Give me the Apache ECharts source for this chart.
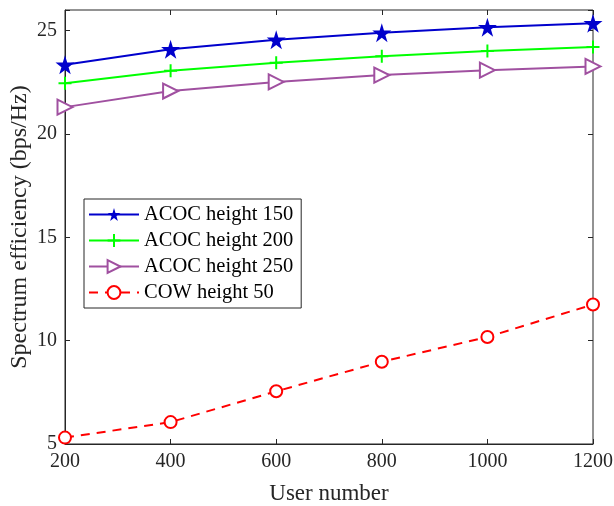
<!DOCTYPE html>
<html>
<head>
<meta charset="utf-8">
<script src="https://cdn.jsdelivr.net/npm/echarts@6/dist/echarts.min.js"></script>
<style>
  html, body { margin: 0; padding: 0; background: #fff; }
  #chart { width: 614px; height: 506px; }
</style>
</head>
<body>
<div id="chart"></div>
<script>
// ユーザー数ごとのスペクトル効率
const userNumbers = [200, 400, 600, 800, 1000, 1200];
const acoc150 = [23.35, 24.1, 24.56, 24.9, 25.17, 25.36];
const acoc200 = [22.45, 23.06, 23.45, 23.76, 24.02, 24.21];
const acoc250 = [21.3, 22.08, 22.52, 22.85, 23.09, 23.27];
const cow50 = [5.31, 6.06, 7.55, 8.98, 10.18, 11.75];
const yTicks = [5, 10, 15, 20, 25];

const font = 'Liberation Serif, Times New Roman, serif';
const starPath = 'path://M50,0 L61,35 L98,35 L68,57 L79,91 L50,70 L21,91 L32,57 L2,35 L39,35 Z';
const plusPath = 'path://M0,50 L100,50 M50,0 L50,100';

const pairs = arr => arr.map((v, i) => [userNumbers[i], v]);

const chart = echarts.init(document.getElementById('chart'));

const hiddenAxis = {
  axisLine: { show: false },
  axisLabel: { show: false },
  splitLine: { show: false },
  axisTick: { show: true, inside: true, length: 5, lineStyle: { color: '#262626' } }
};

const option = {
  backgroundColor: '#fff',
  animation: false,
  grid: {
    left: 65, right: 21, top: 10, bottom: 62,
    outerBoundsMode: 'none',
    containLabel: false,
    show: true, borderColor: '#262626', borderWidth: 1
  },
  legend: {
    orient: 'vertical',
    left: 84, top: 199,
    padding: [5, 8, 5, 4],
    itemGap: 5,
    itemWidth: 50,
    itemHeight: 16,
    borderColor: '#262626',
    borderWidth: 1,
    backgroundColor: '#fff',
    textStyle: { fontFamily: font, fontSize: 20.5, lineHeight: 21, color: '#000' },
    data: ['ACOC height 150', 'ACOC height 200', 'ACOC height 250', 'COW height 50']
  },
  xAxis: [
    {
      type: 'value', min: 200, max: 1200, interval: 200,
      name: 'User number', nameLocation: 'middle', nameGap: 38,
      nameMoveOverlap: false,
      nameTextStyle: { fontFamily: font, fontSize: 23, color: '#262626' },
      axisLine: { lineStyle: { color: '#262626' } },
      axisTick: { inside: true, length: 5, lineStyle: { color: '#262626' } },
      axisLabel: {
        fontFamily: font, fontSize: 20, color: '#262626', margin: 8,
        formatter: v => String(v)
      },
      splitLine: { show: false }
    },
    Object.assign({ type: 'value', min: 200, max: 1200, interval: 200, position: 'top' }, hiddenAxis)
  ],
  yAxis: [
    {
      type: 'value', min: 5, max: 26, interval: 5,
      name: 'Spectrum efficiency (bps/Hz)', nameLocation: 'middle', nameGap: 33,
      nameMoveOverlap: false,
      nameTextStyle: { fontFamily: font, fontSize: 24, color: '#262626' },
      axisLine: { lineStyle: { color: '#262626' } },
      axisTick: { inside: true, length: 5, lineStyle: { color: '#262626' } },
      axisLabel: {
        fontFamily: font, fontSize: 20, color: '#262626', margin: 8,
        formatter: v => (yTicks.includes(v) ? String(v) : '')
      },
      splitLine: { show: false }
    },
    Object.assign({ type: 'value', min: 5, max: 26, interval: 5, position: 'right' }, hiddenAxis)
  ],
  series: [
    {
      name: 'ACOC height 150', type: 'line', data: pairs(acoc150),
      symbol: starPath, symbolSize: 19,
      lineStyle: { color: '#0000CC', width: 2 },
      itemStyle: { color: '#0000CC' }
    },
    {
      name: 'ACOC height 200', type: 'line', data: pairs(acoc200),
      symbol: plusPath, symbolSize: 13,
      lineStyle: { color: '#00FF00', width: 2 },
      itemStyle: { color: 'rgba(0,0,0,0)', borderColor: '#00FF00', borderWidth: 2 }
    },
    {
      name: 'ACOC height 250', type: 'line', data: pairs(acoc250),
      symbol: 'emptyTriangle', symbolRotate: -90, symbolSize: 15,
      lineStyle: { color: '#A050A0', width: 2 },
      itemStyle: { color: '#A050A0', borderWidth: 2 }
    },
    {
      name: 'COW height 50', type: 'line', data: pairs(cow50),
      symbol: 'emptyCircle', symbolSize: 12,
      lineStyle: { color: '#FF0000', width: 2, type: [9, 7] },
      itemStyle: { color: '#FF0000', borderWidth: 2 }
    }
  ]
};

chart.setOption(option);
</script>
</body>
</html>
